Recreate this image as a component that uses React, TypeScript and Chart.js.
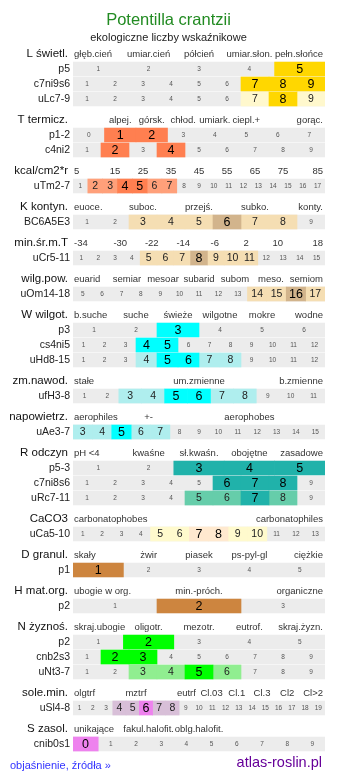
import React, { useEffect, useRef } from "react";
import { Chart, registerables } from "chart.js";
Chart.register(...registerables);

// ---------- data ----------
const speciesName = "Potentilla crantzii";
const subtitleText = "ekologiczne liczby wskaźnikowe";

const groupTitles = [
  "L świetl.", "T termicz.", "kcal/cm2*r", "K kontyn.", "min.śr.m.T", "wilg.pow.",
  "W wilgot.", "zm.nawod.", "napowietrz.", "R odczyn", "CaCO3", "D granul.",
  "H mat.org.", "N żyznoś.", "sole.min.", "S zasol.",
];

const groupScaleLabels: string[][] = [
  ["głęb.cień", "umiar.cień", "półcień", "umiar.słon.", "pełn.słońce"],
  ["", "alpej.", "górsk.", "chłod.", "umiark.", "ciepl.+", "", "gorąc."],
  ["5", "15", "25", "35", "45", "55", "65", "75", "85"],
  ["euoce.", "", "suboc.", "", "przejś.", "", "subko.", "", "konty."],
  ["-34", "-30", "-22", "-14", "-6", "2", "10", "18"],
  ["euarid", "semiar", "mesoar", "subarid", "subom", "meso.", "semiom"],
  ["b.suche", "suche", "świeże", "wilgotne", "mokre", "wodne"],
  ["stałe", "um.zmienne", "b.zmienne"],
  ["aerophiles", "+-", "", "aerophobes", ""],
  ["pH <4", "kwaśne", "sł.kwaśn.", "obojętne", "zasadowe"],
  ["carbonatophobes", "carbonatophiles"],
  ["skały", "żwir", "piasek", "ps-pyl-gl", "ciężkie"],
  ["ubogie w org.", "min.-próch.", "organiczne"],
  ["skraj.ubogie", "oligotr.", "mezotr.", "eutrof.", "skraj.żyzn."],
  ["olgtrf", "", "mztrf", "", "eutrf", "Cl.03", "Cl.1", "Cl.3", "Cl2", "Cl>2"],
  ["unikające", "fakul.halofit.", "oblg.halofit.", "", ""],
];

const rowCodes = [
  "p5", "c7ni9s6", "uLc7-9", "p1-2", "c4ni2", "uTm2-7", "BC6A5E3", "uCr5-11",
  "uOm14-18", "p3", "cs4ni5", "uHd8-15", "ufH3-8", "uAe3-7", "p5-3", "c7ni8s6",
  "uRc7-11", "uCa5-10", "p1", "p2", "p2", "cnb2s3", "uNt3-7", "uSl4-8", "cnib0s1",
];
const rowGroup = [0, 0, 0, 1, 1, 2, 3, 4, 5, 6, 6, 6, 7, 8, 9, 9, 9, 10, 11, 12, 13, 13, 13, 14, 15];
const rowFirstCell = [1, 1, 1, 0, 1, 1, 1, 1, 5, 1, 1, 1, 1, 3, 1, 1, 1, 1, 1, 1, 1, 1, 1, 1, 0];
const rowLastCell = [5, 9, 9, 7, 9, 17, 9, 15, 17, 6, 12, 12, 11, 15, 5, 9, 9, 13, 5, 3, 5, 9, 9, 19, 9];
const strongCells: number[][] = [
  [5], [7, 8, 9], [8], [1, 2], [2, 4], [4, 5], [6], [8], [16], [3], [4, 5], [5, 6],
  [5, 6], [5], [3, 4, 5], [6, 7, 8], [7], [7, 8], [1], [2], [2], [2, 3], [5], [6], [0],
];
const lightCells: number[][] = [
  [], [], [7, 9], [], [], [2, 3, 6, 7], [3, 4, 5, 7, 8], [5, 6, 7, 9, 10, 11], [14, 15, 17],
  [], [], [4, 7, 8], [3, 4, 7, 8], [3, 4, 6, 7], [], [], [5, 6, 8], [5, 6, 9, 10],
  [], [], [], [], [3, 4, 6], [4, 5, 7, 8], [],
];

// ---------- styles ----------
const strongPalette = [
  "#ffd700", "#ff7f50", "#ff7f50", "#d2b48c", "#d2b48c", "#d2b48c", "#00ffff", "#00ffff",
  "#00ffff", "#20b2aa", "#ffe9cf", "#cd853f", "#cd853f", "#00ff00", "#ee82ee", "#ee82ee",
];
const lightPalette = [
  "#fff8cd", "#ffa07a", "#ffa07a", "#f5deb3", "#f5deb3", "#f5deb3", "#afeeee", "#afeeee",
  "#afeeee", "#66cdaa", "#fffacd", "#cd853f", "#cd853f", "#90ee90", "#d8bfd8", "#d8bfd8",
];
const GRAY = "#ececec";
const FONT = '"Liberation Sans", Arial, Helvetica, sans-serif';
const W = 337;
const H = 781;

export default function App() {
  const ref = useRef<HTMLCanvasElement>(null);

  useEffect(() => {
    document.body.style.margin = "0";
    const canvas = ref.current;
    if (!canvas) return;

    // vertical layout in pixel units of the y scale
    const headerYs: number[] = [];
    const rowYs: number[] = [];
    let cursor = 54;
    groupTitles.forEach((_, g) => {
      headerYs.push(cursor);
      const rows = rowGroup.map((gg, i) => (gg === g ? i : -1)).filter((i) => i >= 0);
      rows.forEach((r, k) => {
        rowYs[r] = cursor + 15 + 15 * k;
      });
      cursor += 21 + 15 * rows.length;
    });

    const cellBar = (r: number, c: number) => {
      const n = rowLastCell[r] - rowFirstCell[r] + 1;
      const idx = c - rowFirstCell[r];
      return { x: [idx / n, (idx + 1) / n], y: rowYs[r] };
    };

    const bgData = rowCodes.map((_, r) => ({ x: [0, 1], y: rowYs[r] }));
    const lightData: any[] = [];
    const lightColors: string[] = [];
    const strongData: any[] = [];
    const strongColors: string[] = [];
    rowCodes.forEach((_, r) => {
      lightCells[r].forEach((c) => {
        lightData.push(cellBar(r, c));
        lightColors.push(lightPalette[rowGroup[r]]);
      });
      strongCells[r].forEach((c) => {
        strongData.push(cellBar(r, c));
        strongColors.push(strongPalette[rowGroup[r]]);
      });
    });

    const textPlugin = {
      id: "atlasText",
      afterDraw(chart: any) {
        const ctx: CanvasRenderingContext2D = chart.ctx;
        const xs = chart.scales.x;
        const ys = chart.scales.y;
        const left = chart.chartArea.left;
        const right = chart.chartArea.right;
        ctx.save();
        ctx.textBaseline = "middle";

        // title
        ctx.textAlign = "center";
        ctx.fillStyle = "#228b22";
        ctx.font = `16.5px ${FONT}`;
        ctx.fillText(speciesName, W / 2, 20);
        ctx.fillStyle = "#222";
        ctx.font = `11px ${FONT}`;
        ctx.fillText(subtitleText, W / 2, 38);

        // group headers
        groupTitles.forEach((t, g) => {
          const y = ys.getPixelForValue(headerYs[g]);
          ctx.fillStyle = "#111";
          ctx.font = `11.5px ${FONT}`;
          ctx.textAlign = "right";
          ctx.fillText(t, 68, y);
          const labels = groupScaleLabels[g];
          const m = labels.length;
          ctx.font = `9.5px ${FONT}`;
          ctx.fillStyle = "#333";
          labels.forEach((lab, j) => {
            if (!lab) return;
            if (j === 0) {
              ctx.textAlign = "left";
              ctx.fillText(lab, left + 1, y);
            } else if (j === m - 1) {
              ctx.textAlign = "right";
              ctx.fillText(lab, right - 2, y);
            } else {
              ctx.textAlign = "center";
              ctx.fillText(lab, xs.getPixelForValue((j + 0.5) / m), y);
            }
          });
        });

        // rows
        rowCodes.forEach((code, r) => {
          const y = ys.getPixelForValue(rowYs[r]);
          ctx.textAlign = "right";
          ctx.fillStyle = "#222";
          ctx.font = `10.5px ${FONT}`;
          ctx.fillText(code, 70, y);
          const first = rowFirstCell[r];
          const n = rowLastCell[r] - first + 1;
          ctx.textAlign = "center";
          for (let i = 0; i < n; i++) {
            const c = first + i;
            const x = xs.getPixelForValue((i + 0.5) / n);
            if (strongCells[r].includes(c)) {
              ctx.font = `12.5px ${FONT}`;
              ctx.fillStyle = "#000";
            } else if (lightCells[r].includes(c)) {
              ctx.font = `10.5px ${FONT}`;
              ctx.fillStyle = "#222";
            } else {
              ctx.font = `6.5px ${FONT}`;
              ctx.fillStyle = "#555";
            }
            ctx.fillText(String(c), x, y + 0.5);
          }
        });

        // footer
        ctx.textAlign = "left";
        ctx.fillStyle = "#3333ff";
        ctx.font = `11px ${FONT}`;
        ctx.fillText("objaśnienie, źródła »", 10, 766);
        ctx.textAlign = "right";
        ctx.fillStyle = "#660099";
        ctx.font = `14.5px ${FONT}`;
        ctx.fillText("atlas-roslin.pl", 322, 763);
        ctx.restore();
      },
    };

    const chart = new Chart(canvas, {
      type: "bar",
      data: {
        datasets: [
          { label: "strong", data: strongData, backgroundColor: strongColors, order: 0 },
          { label: "light", data: lightData, backgroundColor: lightColors, order: 1 },
          { label: "scale", data: bgData, backgroundColor: GRAY, order: 2 },
        ] as any,
      },
      options: {
        responsive: false,
        animation: false,
        devicePixelRatio: 1,
        indexAxis: "y",
        layout: { padding: { left: 73, right: 12, top: 0, bottom: 0 } },
        datasets: { bar: { grouped: false, barThickness: 14, borderWidth: 0 } as any },
        scales: {
          x: { type: "linear", min: 0, max: 1, display: false, offset: false },
          y: { type: "linear", min: 0, max: H, reverse: true, display: false, offset: false },
        },
        plugins: {
          legend: { display: false },
          tooltip: { enabled: false },
          title: { display: false },
        },
      } as any,
      plugins: [textPlugin],
    });
    return () => chart.destroy();
  }, []);

  return (
    <div style={{ position: "absolute", left: 0, top: 0, width: W, height: H, background: "#fff" }}>
      <canvas ref={ref} width={W} height={H} style={{ display: "block" }} />
    </div>
  );
}
